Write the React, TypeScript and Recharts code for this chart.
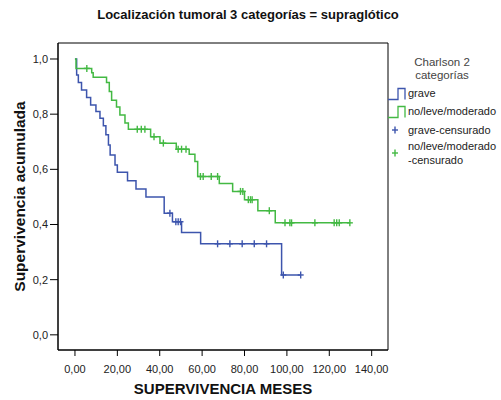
import React from "react"
import {
  ComposedChart,
  Line,
  Scatter,
  XAxis,
  YAxis,
  ReferenceArea,
} from "recharts"

// Kaplan-Meier steps, grave
const graveTimes = [0, 0.8, 1.6, 3.1, 5.5, 7.4, 9.9, 11.8, 13.4, 14.6, 15.8, 16.6, 18.9, 20, 24.8, 28.8, 33.5, 42.1, 46, 50.3, 59.3, 97.5, 106.5]
const graveSurv = [1, 0.942, 0.915, 0.888, 0.86, 0.833, 0.81, 0.785, 0.758, 0.725, 0.688, 0.652, 0.616, 0.589, 0.559, 0.529, 0.5, 0.441, 0.41, 0.371, 0.33, 0.217, 0.217]
const graveCensorTimes = [44.8, 47.6, 48.7, 49.8, 67.3, 73.1, 78.9, 84.6, 90.4, 98.3, 106.5]
const graveCensorSurv = [0.441, 0.41, 0.41, 0.41, 0.33, 0.33, 0.33, 0.33, 0.33, 0.217, 0.217]

// no/leve/moderado
const leveTimes = [0, 0.5, 7.9, 8.6, 14.9, 16.2, 17.3, 19.6, 21.2, 23.6, 25.2, 35.7, 40.1, 47.8, 53.9, 56.6, 57.9, 68.1, 74.4, 80, 86.3, 94.5, 129.7]
const leveSurv = [1, 0.966, 0.95, 0.934, 0.915, 0.882, 0.85, 0.826, 0.797, 0.768, 0.745, 0.718, 0.695, 0.673, 0.655, 0.628, 0.574, 0.549, 0.52, 0.49, 0.45, 0.406, 0.406]
const leveCensorTimes = [5.6, 29.4, 31.3, 33.0, 37.3, 41.7, 48.7, 50.3, 52.4, 59.2, 60.5, 64.3, 67.3, 78.1, 79.2, 81.8, 82.8, 83.6, 91.7, 99.1, 101.4, 102.2, 113.2, 122.3, 123.5, 124.7, 129.7]
const leveCensorSurv = [0.966, 0.745, 0.745, 0.745, 0.718, 0.695, 0.673, 0.673, 0.673, 0.574, 0.574, 0.574, 0.574, 0.52, 0.52, 0.49, 0.49, 0.49, 0.45, 0.406, 0.406, 0.406, 0.406, 0.406, 0.406, 0.406, 0.406]

const xTicks = [0, 20, 40, 60, 80, 100, 120, 140]
const yTicks = [0, 0.2, 0.4, 0.6, 0.8, 1]

const BLUE = "#3d55ad"
const GREEN = "#43b943"
const FONT = "'Liberation Sans', Arial, sans-serif"

const toRows = (t: number[], s: number[]) => t.map((v, i) => ({ t: v, s: s[i] }))

const graveData = toRows(graveTimes, graveSurv)
const leveData = toRows(leveTimes, leveSurv)
const graveCensor = toRows(graveCensorTimes, graveCensorSurv)
const leveCensor = toRows(leveCensorTimes, leveCensorSurv)

const xDomain: [number, number] = [-8, 147.7]
const yDomain: [number, number] = [-0.055, 1.058]

function Plus({ cx, cy, color }: { cx?: number; cy?: number; color: string }) {
  if (cx == null || cy == null) return null
  return (
    <g stroke={color} strokeWidth={1.4}>
      <line x1={cx - 3} y1={cy} x2={cx + 3} y2={cy} />
      <line x1={cx} y1={cy - 3.5} x2={cx} y2={cy + 3.5} />
    </g>
  )
}

function StepIcon({ y, color }: { y: number; color: string }) {
  return (
    <path
      d={`M388,${y} H398 V${y - 11} H405 V${y}`}
      fill="none"
      stroke={color}
      strokeWidth={1.3}
    />
  )
}

export default function App() {
  const tickStyle = { fill: "#222", fontSize: 11, fontFamily: FONT }
  return (
    <div style={{ position: "absolute", left: 0, top: 0, width: 501, height: 400, background: "#fff", fontFamily: FONT }}>
      <div
        style={{
          position: "absolute",
          left: 0,
          top: 7,
          width: 496,
          textAlign: "center",
          fontWeight: "bold",
          fontSize: 13,
          color: "#111",
        }}
      >
        Localización tumoral 3 categorías = supraglótico
      </div>

      <ComposedChart
        width={501}
        height={400}
        margin={{ top: 43, right: 113, bottom: 0, left: 0 }}
        style={{ position: "absolute", left: 0, top: 0 }}
      >
        <XAxis
          dataKey="t"
          type="number"
          domain={xDomain}
          ticks={xTicks}
          allowDataOverflow
          height={50}
          tickSize={6}
          tickMargin={9}
          stroke="#000"
          tick={tickStyle}
          tickFormatter={(v: number) => v.toFixed(2).replace(".", ",")}
          label={{
            content: (p: any) => {
              const vb = p.viewBox
              return (
                <text
                  x={vb.x + vb.width / 2}
                  y={394}
                  textAnchor="middle"
                  fontSize={15}
                  fontWeight="bold"
                  fontFamily={FONT}
                  fill="#111"
                >
                  SUPERVIVENCIA MESES
                </text>
              )
            },
          }}
        />
        <YAxis
          dataKey="s"
          type="number"
          domain={yDomain}
          ticks={yTicks}
          allowDataOverflow
          width={58}
          tickSize={8}
          tickMargin={2}
          stroke="#000"
          tick={tickStyle}
          tickFormatter={(v: number) => v.toFixed(1).replace(".", ",")}
          label={{
            content: (p: any) => {
              const vb = p.viewBox
              const cy = vb.y + vb.height / 2
              return (
                <text
                  x={25}
                  y={cy}
                  transform={`rotate(-90 25 ${cy})`}
                  textAnchor="middle"
                  fontSize={15.5}
                  fontWeight="bold"
                  fontFamily={FONT}
                  fill="#111"
                >
                  Supervivencia acumulada
                </text>
              )
            },
          }}
        />
        <ReferenceArea
          x1={xDomain[0]}
          x2={xDomain[1]}
          y1={yDomain[0]}
          y2={yDomain[1]}
          fill="none"
          stroke="#000"
          strokeWidth={1}
        />
        <Line
          data={graveData}
          dataKey="s"
          type="stepAfter"
          stroke={BLUE}
          strokeWidth={1.5}
          dot={false}
          activeDot={false}
          isAnimationActive={false}
        />
        <Line
          data={leveData}
          dataKey="s"
          type="stepAfter"
          stroke={GREEN}
          strokeWidth={1.5}
          dot={false}
          activeDot={false}
          isAnimationActive={false}
        />
        <Scatter
          data={graveCensor}
          dataKey="s"
          isAnimationActive={false}
          shape={(p: any) => <Plus cx={p.cx} cy={p.cy} color={BLUE} />}
        />
        <Scatter
          data={leveCensor}
          dataKey="s"
          isAnimationActive={false}
          shape={(p: any) => <Plus cx={p.cx} cy={p.cy} color={GREEN} />}
        />
      </ComposedChart>

      {/* Legend */}
      <svg width={501} height={400} style={{ position: "absolute", left: 0, top: 0, pointerEvents: "none" }}>
        <g fontFamily={FONT} fill="#222">
          <text x={442} y={65.5} fontSize={11.5} fill="#444" textAnchor="middle">Charlson 2</text>
          <text x={442} y={79} fontSize={11.5} fill="#444" textAnchor="middle">categorías</text>
          <StepIcon y={99.5} color={BLUE} />
          <text x={408} y={97} fontSize={11}>grave</text>
          <StepIcon y={117.5} color={GREEN} />
          <text x={408} y={114.5} fontSize={11}>no/leve/moderado</text>
          <Plus cx={395} cy={130} color={BLUE} />
          <text x={408} y={134} fontSize={11}>grave-censurado</text>
          <Plus cx={395} cy={153} color={GREEN} />
          <text x={408} y={150} fontSize={11}>no/leve/moderado</text>
          <text x={408} y={163.5} fontSize={11}>-censurado</text>
        </g>
      </svg>
    </div>
  )
}
